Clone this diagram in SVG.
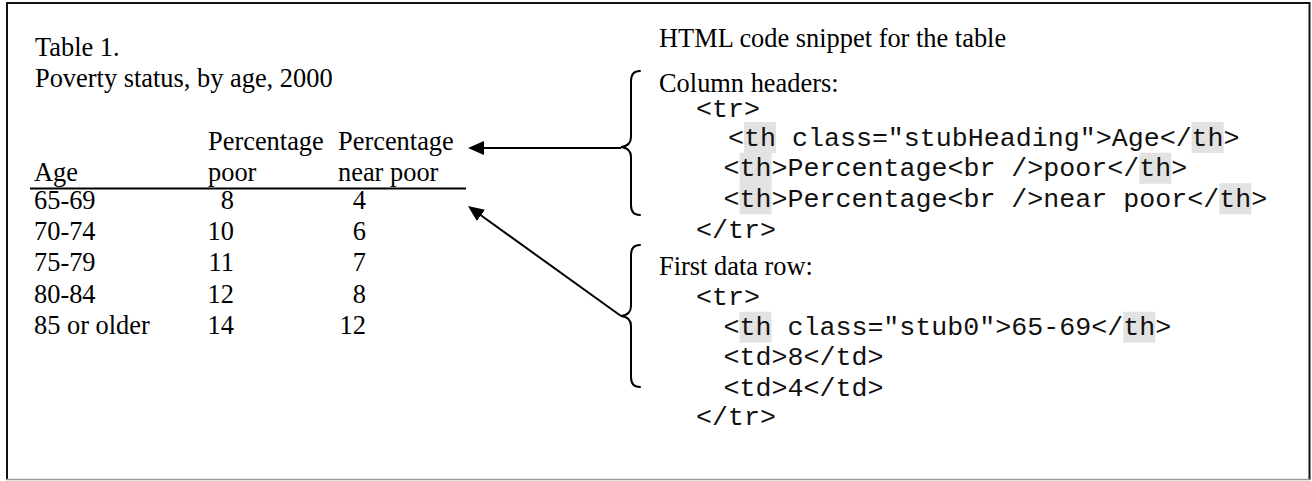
<svg xmlns="http://www.w3.org/2000/svg" width="1312" height="481" viewBox="0 0 1312 481">
  <style>
    .serif { font-family: "Liberation Serif", "Times New Roman", serif; font-size: 26.4px; fill: #000; }
    .mono { font-family: "Liberation Mono", "Courier New", monospace; font-size: 26.65px; fill: #111; }
    .hl { fill: #e2e2e2; }
    .conn { stroke: #000; stroke-width: 2; fill: none; }
    .brace { stroke: #000; stroke-width: 2; fill: none; stroke-linecap: round; }
  </style>
  <defs>
    <marker id="arrow" viewBox="0 0 16 14" refX="4" refY="7" markerWidth="16" markerHeight="14" markerUnits="userSpaceOnUse" orient="auto">
      <path d="M0,0 L16,7 L0,14 z" fill="#000"/>
    </marker>
  </defs>
  <rect x="0" y="0" width="1312" height="481" fill="#fff"/>
  <g id="frame">
    <path d="M7,480 L7,3 L1309.5,3 L1309.5,480" stroke="#111" stroke-width="2" fill="none"/>
    <line x1="6" y1="479.5" x2="1310" y2="479.5" stroke="#9a9a9a" stroke-width="1.5"/>
  </g>
  <g id="table">
    <text class="serif" x="35" y="56">Table 1.</text>
    <text class="serif" x="35" y="86.5">Poverty status, by age, 2000</text>
    <text class="serif" x="208" y="150">Percentage</text>
    <text class="serif" x="338" y="150">Percentage</text>
    <text class="serif" x="34" y="180.5">Age</text>
    <text class="serif" x="208" y="180.5">poor</text>
    <text class="serif" x="338" y="180.5">near poor</text>
    <line x1="30" y1="188.5" x2="466" y2="188.5" stroke="#000" stroke-width="2"/>
    <text class="serif" x="34" y="209">65-69</text>
    <text class="serif" x="234" y="209" text-anchor="end">8</text>
    <text class="serif" x="366" y="209" text-anchor="end">4</text>
    <text class="serif" x="34" y="240">70-74</text>
    <text class="serif" x="234" y="240" text-anchor="end">10</text>
    <text class="serif" x="366" y="240" text-anchor="end">6</text>
    <text class="serif" x="34" y="271">75-79</text>
    <text class="serif" x="234" y="271" text-anchor="end">11</text>
    <text class="serif" x="366" y="271" text-anchor="end">7</text>
    <text class="serif" x="34" y="302.5">80-84</text>
    <text class="serif" x="234" y="302.5" text-anchor="end">12</text>
    <text class="serif" x="366" y="302.5" text-anchor="end">8</text>
    <text class="serif" x="34" y="333.5">85 or older</text>
    <text class="serif" x="234" y="333.5" text-anchor="end">14</text>
    <text class="serif" x="366" y="333.5" text-anchor="end">12</text>
  </g>
  <g id="code-title">
    <text class="serif" x="659" y="47">HTML code snippet for the table</text>
  </g>
  <g id="code-headers">
    <rect class="hl" x="744" y="122" width="32" height="31"/>
    <rect class="hl" x="1191.7" y="122" width="32" height="31"/>
    <rect class="hl" x="739.6" y="152.7" width="32" height="31"/>
    <rect class="hl" x="1139.3" y="152.7" width="32" height="31"/>
    <rect class="hl" x="739.6" y="183.3" width="32" height="31"/>
    <rect class="hl" x="1219.3" y="183.3" width="32" height="31"/>
    <text class="serif" x="659" y="92">Column headers:</text>
    <text class="mono" x="696" y="116.5">&lt;tr&gt;</text>
    <text class="mono" x="728" y="145.5">&lt;th class="stubHeading"&gt;Age&lt;/th&gt;</text>
    <text class="mono" x="723.6" y="176">&lt;th&gt;Percentage&lt;br /&gt;poor&lt;/th&gt;</text>
    <text class="mono" x="723.6" y="206.6">&lt;th&gt;Percentage&lt;br /&gt;near poor&lt;/th&gt;</text>
    <text class="mono" x="696" y="237.5">&lt;/tr&gt;</text>
  </g>
  <g id="code-datarow">
    <rect class="hl" x="739.5" y="311.7" width="32" height="31"/>
    <rect class="hl" x="1123.3" y="311.7" width="32" height="31"/>
    <text class="serif" x="659" y="275">First data row:</text>
    <text class="mono" x="696" y="305">&lt;tr&gt;</text>
    <text class="mono" x="723.5" y="335">&lt;th class="stub0"&gt;65-69&lt;/th&gt;</text>
    <text class="mono" x="723.5" y="365">&lt;td&gt;8&lt;/td&gt;</text>
    <text class="mono" x="723.5" y="395.5">&lt;td&gt;4&lt;/td&gt;</text>
    <text class="mono" x="696" y="425">&lt;/tr&gt;</text>
  </g>
  <g id="connectors">
    <path class="brace" d="M640,71 Q631,71 631,81 L631,137 Q631,146 621,147 Q631,148 631,157 L631,205 Q631,215 640,215"/>
    <path class="brace" d="M640,245 Q631,245 631,255 L631,306 Q631,315 621,316 Q631,317 631,326 L631,377 Q631,387 640,387"/>
    <line class="conn" x1="621" y1="148" x2="480" y2="148" marker-end="url(#arrow)"/>
    <line class="conn" x1="621" y1="316" x2="477.7" y2="213" marker-end="url(#arrow)"/>
  </g>
</svg>
